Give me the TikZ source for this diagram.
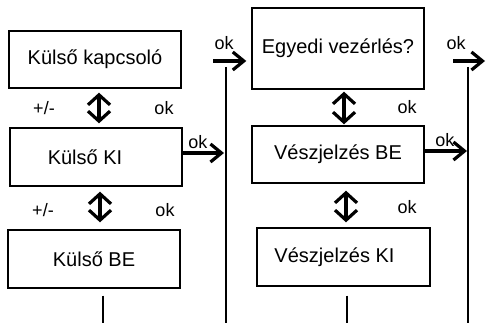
\documentclass[tikz,border=0pt]{standalone}
\usepackage{fontspec}
\setmainfont{Liberation Sans}
\usetikzlibrary{arrows.meta}

\begin{document}
\begin{tikzpicture}[
    x=1pt, y=-1pt,
    box/.style={rectangle, draw, line width=1.4pt, minimum width=172pt, minimum height=57pt, inner sep=0pt, font=\fontsize{20}{24}\selectfont},
    lbl/.style={font=\fontsize{18}{21}\selectfont, inner sep=0pt},
    dbl/.style={{Straight Barb[length=10pt,width=22pt]}-{Straight Barb[length=10pt,width=22pt]}, line width=3.2pt},
    okarrow/.style={-{Straight Barb[length=11pt,width=18pt]}, line width=3.2pt},
    wire/.style={line width=1.5pt},
]
    \useasboundingbox (0,0) rectangle (486,323);

    % Nodes
    \node[box] (kapcs) at (95,59.5) {Külső kapcsoló};
    \node[box, minimum height=58pt] (kki) at (96,157) {\hspace*{-22pt}Külső KI};
    \node[box, minimum height=58pt] (kbe) at (94,259) {Külső BE};
    \node[box, minimum height=81pt] (egyedi) at (338,48.5) {Egyedi vezérlés?};
    \node[box] (vbe) at (338,154.5) {Vészjelzés BE};
    \node[box, minimum width=173pt, minimum height=58pt] (vki) at (343.5,257) {\hspace*{-18pt}Vészjelzés KI};

    \coordinate (bus1top) at (226,67);
    \coordinate (bus1bot) at (226,323);
    \coordinate (bus2top) at (468,67);
    \coordinate (bus2bot) at (468,323);
    \coordinate (kbeout) at (103,323);
    \coordinate (vkiout) at (347,323);
    \coordinate (ok1) at (213,61);
    \coordinate (ok3) at (453,61);
    \coordinate (ok3end) at (485,61);

    % Arrows
    \draw[dbl, shorten <=4pt, shorten >=4pt] ([xshift=4pt]kapcs.south) -- ([xshift=4pt]kapcs.south |- kki.north)
        node[lbl, midway, xshift=-55pt] {+/-} node[lbl, midway, xshift=65pt] {ok};
    \draw[dbl, shorten <=5pt, shorten >=7pt] ([xshift=4pt]kki.south) -- ([xshift=4pt]kki.south |- kbe.north)
        node[lbl, midway, xshift=-57pt, yshift=-2pt] {+/-} node[lbl, midway, xshift=65pt, yshift=-2pt] {ok};
    \draw[dbl, shorten <=2pt, shorten >=1pt] ([xshift=6pt]egyedi.south) -- ([xshift=6pt]egyedi.south |- vbe.north)
        node[lbl, midway, xshift=63pt] {ok};
    \draw[dbl, shorten <=7pt, shorten >=5pt] ([xshift=8pt]vbe.south) -- ([xshift=8pt]vbe.south |- vki.north)
        node[lbl, midway, xshift=61pt, yshift=-2pt] {ok};

    \draw[wire] (bus1top) -- (bus1bot);
    \draw[wire] (bus2top) -- (bus2bot);
    \draw[wire] ([xshift=9pt, yshift=-7pt]kbe.south) -- (kbeout);
    \draw[wire] ([xshift=3.5pt, yshift=-9pt]vki.south) -- (vkiout);

    \draw[okarrow, shorten >=5pt] (ok1) -- (ok1 -| egyedi.west)
        node[lbl, pos=0, anchor=south west, yshift=10pt] {ok};
    \draw[okarrow, shorten >=2pt] ([yshift=4pt]kki.east) -- ([yshift=4pt]kki.east -| bus1top)
        node[lbl, pos=0, anchor=south west, xshift=4pt, yshift=3pt] {ok};
    \draw[okarrow] (ok3) -- (ok3end)
        node[lbl, pos=0, anchor=south west, xshift=-8pt, yshift=10pt] {ok};
    \draw[okarrow, shorten >=1pt] ([yshift=3.5pt]vbe.east) -- ([yshift=3.5pt]vbe.east -| bus2top)
        node[lbl, pos=0, anchor=south west, xshift=9pt, yshift=3pt] {ok};
\end{tikzpicture}
\end{document}
